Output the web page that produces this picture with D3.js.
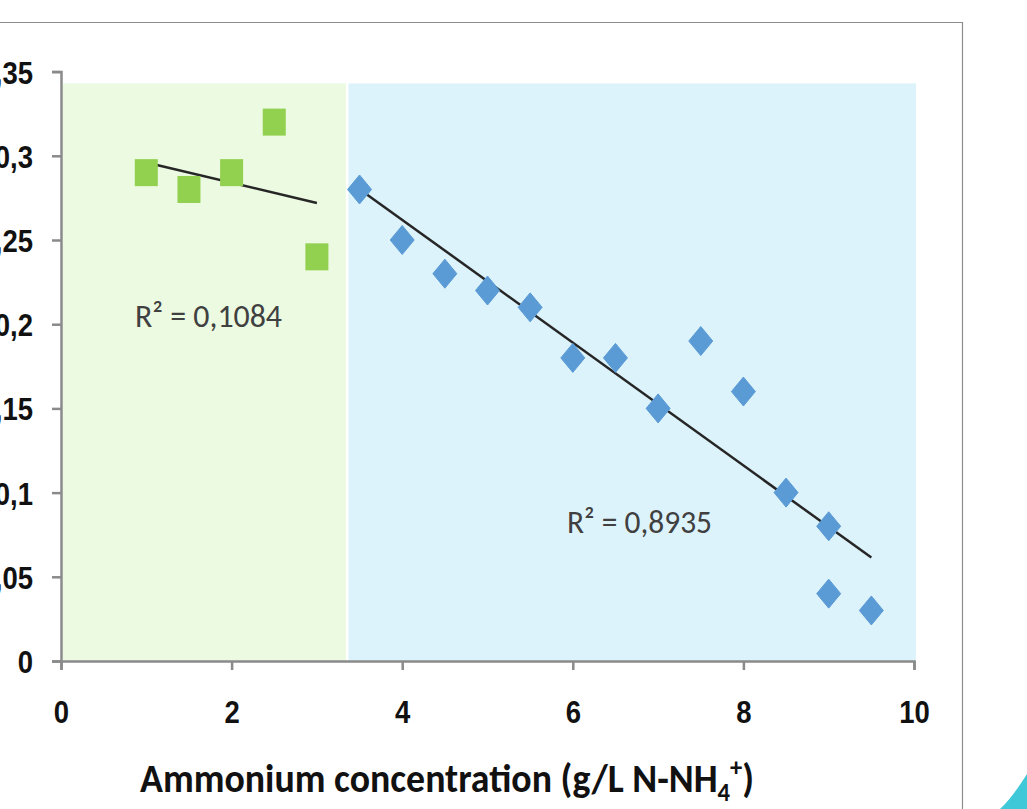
<!DOCTYPE html>
<html>
<head>
<meta charset="utf-8">
<script src="https://cdn.jsdelivr.net/npm/d3@7"></script>
<style>
  body { margin: 0; background: #fff; }
  svg { display: block; font-family: Carlito, Lato, sans-serif; }
</style>
</head>
<body>
<svg id="chart" width="1027" height="809"></svg>
<script>
// low ammonium group (green squares)
const lowX = [1, 1.5, 2, 2.5, 3];
const lowY = [0.29, 0.28, 0.29, 0.32, 0.24];
// high ammonium group (blue diamonds)
const highX = [3.5, 4, 4.5, 5, 5.5, 6, 6.5, 7, 7.5, 8, 8.5, 9, 9, 9.5];
const highY = [0.28, 0.25, 0.23, 0.22, 0.21, 0.18, 0.18, 0.15, 0.19, 0.16, 0.10, 0.08, 0.04, 0.03];

const xTicks = [0, 2, 4, 6, 8, 10];
const yTicks = [0, 0.05, 0.1, 0.15, 0.2, 0.25, 0.3, 0.35];
// shaded zones on x: [start, end]
const lowZone = [0, 3.34];
const highZone = [3.37, 10];
const zoneTop = 0.343;

const r2Labels = ['R² = 0,1084', 'R² = 0,8935'];

const svg = d3.select('#chart');

const x = d3.scaleLinear().domain([0, 10]).range([61, 914]);
const y = d3.scaleLinear().domain([0, 0.35]).range([661, 71.6]);

const fmt = (d) => String(d).replace('.', ',');
const squeeze = 0.86; // the source text is narrow

// slide frame
svg.append('path')
    .attr('d', 'M0,22.5H962.5V809')
    .attr('fill', 'none')
    .attr('stroke', '#8c8c8c')
    .attr('stroke-width', 1.2);

// decorative corner
svg.append('path')
    .attr('d', 'M1000,809 C1010,800 1018,788 1027,774 L1027,809 Z')
    .attr('fill', '#3fc8d8');

// background zones
svg.append('rect')
    .attr('x', x(lowZone[0]) + 2)
    .attr('y', y(zoneTop))
    .attr('width', x(lowZone[1]) - x(lowZone[0]) - 2)
    .attr('height', y(0) - y(zoneTop))
    .attr('fill', '#ebfae0');

svg.append('rect')
    .attr('x', x(highZone[0]))
    .attr('y', y(zoneTop))
    .attr('width', x(highZone[1]) - x(highZone[0]) + 2)
    .attr('height', y(0) - y(zoneTop))
    .attr('fill', '#ddf3fc');

// axes
const yAxis = d3.axisLeft(y).tickValues(yTicks).tickFormat(fmt).tickSize(9).tickSizeOuter(9);
const xAxis = d3.axisBottom(x).tickValues(xTicks).tickFormat(fmt).tickSize(9).tickSizeOuter(9);

const gy = svg.append('g').attr('transform', `translate(${x(0)},0)`).call(yAxis);
const gx = svg.append('g').attr('transform', `translate(0,${y(0)})`).call(xAxis);

[gy, gx].forEach((g) => {
    g.selectAll('path, line').attr('stroke', '#8a8a8a').attr('stroke-width', 2.5);
    g.selectAll('text')
        .attr('fill', '#111')
        .attr('font-size', 32)
        .attr('font-weight', 'bold')
        .attr('transform', `scale(${squeeze},1)`);
});
// labels run off the left edge in the source, so they do here too
gy.selectAll('text').attr('x', -28 / squeeze).attr('dy', '0.36em');
gx.selectAll('text').attr('y', 62).attr('dy', 0);

// linear fit helper
function fit(xs, ys) {
    const mx = d3.mean(xs);
    const my = d3.mean(ys);
    let sxy = 0;
    let sxx = 0;
    xs.forEach((v, i) => {
        sxy += (v - mx) * (ys[i] - my);
        sxx += (v - mx) * (v - mx);
    });
    const b = sxy / sxx;
    const a = my - b * mx;
    return (v) => a + b * v;
}

const trendLines = [
    { xs: lowX, ys: lowY },
    { xs: highX, ys: highY },
];

trendLines.forEach((t) => {
    const f = fit(t.xs, t.ys);
    const x0 = d3.min(t.xs);
    const x1 = d3.max(t.xs);
    svg.append('line')
        .attr('x1', x(x0))
        .attr('y1', y(f(x0)))
        .attr('x2', x(x1))
        .attr('y2', y(f(x1)))
        .attr('stroke', '#262626')
        .attr('stroke-width', 2.5);
});

// green squares (a bit taller than wide, like the source)
svg.append('g')
    .selectAll('rect')
    .data(lowX.map((v, i) => [v, lowY[i]]))
    .enter()
    .append('rect')
    .attr('x', (d) => x(d[0]) - 11.5)
    .attr('y', (d) => y(d[1]) - 13.5)
    .attr('width', 23)
    .attr('height', 27)
    .attr('fill', '#92d050');

// blue diamonds
svg.append('g')
    .selectAll('path')
    .data(highX.map((v, i) => [v, highY[i]]))
    .enter()
    .append('path')
    .attr('transform', (d) => `translate(${x(d[0])},${y(d[1])})`)
    .attr('d', 'M0,-14.5L12,0L0,14.5L-12,0Z')
    .attr('fill', '#5b9bd5')
    .attr('stroke', '#5b9bd5')
    .attr('stroke-width', 1)
    .attr('stroke-linejoin', 'round');

// R² labels
svg.append('text')
    .attr('x', 135)
    .attr('y', 327)
    .attr('font-size', 33)
    .attr('fill', '#404040')
    .attr('textLength', 147)
    .attr('lengthAdjust', 'spacingAndGlyphs')
    .text(r2Labels[0]);

svg.append('text')
    .attr('x', 567)
    .attr('y', 533)
    .attr('font-size', 33)
    .attr('fill', '#404040')
    .attr('textLength', 145)
    .attr('lengthAdjust', 'spacingAndGlyphs')
    .text(r2Labels[1]);

// x axis title
const title = svg.append('text')
    .attr('transform', 'translate(140,792) scale(0.946,1)')
    .attr('font-size', 40)
    .attr('font-weight', 'bold')
    .attr('fill', '#111');
title.append('tspan').text('Ammonium concentration (g/L N-NH');
title.append('tspan').attr('font-size', 26).attr('dy', 9).text('4');
title.append('tspan').attr('font-size', 26).attr('dy', -25).text('+');
title.append('tspan').attr('dy', 16).text(')');
</script>
</body>
</html>
